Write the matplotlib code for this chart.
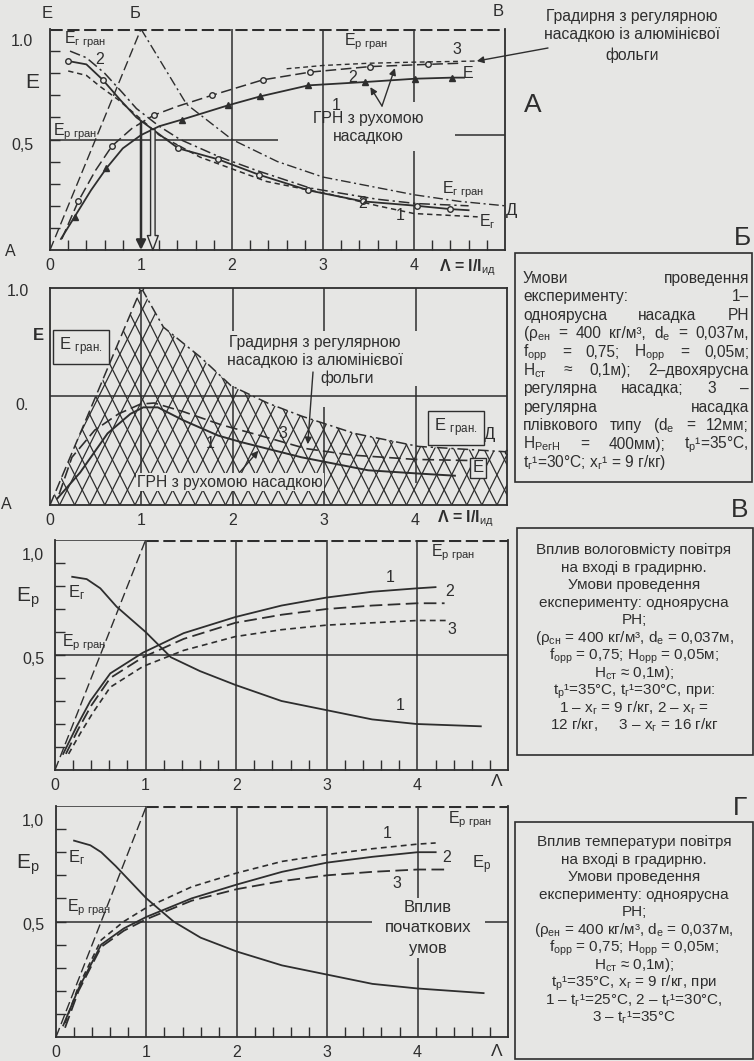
import numpy as np
import matplotlib
matplotlib.use('Agg')
import matplotlib.pyplot as plt
from matplotlib.patches import Polygon, Rectangle

plt.rcParams['font.family'] = ['Liberation Sans', 'DejaVu Sans']
plt.rcParams['mathtext.fontset'] = 'custom'
plt.rcParams['mathtext.rm'] = 'Liberation Sans'
plt.rcParams['mathtext.it'] = 'Liberation Sans:italic'
plt.rcParams['mathtext.bf'] = 'Liberation Sans:bold'

W, H = 754, 1061
BG = '#e6e6e4'
INK = '#2e2e2e'

# ---------------- data ----------------
# limiting lines
lam_pgr = [0, 1]
e_pgr = [0, 1]
e_top = 1.0
lam_ggr = [1, 1.5, 2, 2.5, 3, 3.5, 4, 4.5, 5]
e_ggr = [1.0, 0.66, 0.5, 0.4, 0.33, 0.29, 0.25, 0.22, 0.2]

# panel A - rising curves
lam_a1 = [0.12, 0.27, 0.45, 0.62, 0.8, 1.0, 1.2, 1.45, 1.96, 2.31, 2.84, 3.46, 4.01, 4.42, 4.55]
e_a1 = [0.05, 0.15, 0.27, 0.37, 0.46, 0.52, 0.56, 0.59, 0.655, 0.695, 0.745, 0.76, 0.775, 0.78, 0.78]
lam_a2 = [0.13, 0.31, 0.5, 0.68, 0.9, 1.14, 1.4, 1.78, 2.34, 2.86, 3.52, 4.15, 4.5]
e_a2 = [0.05, 0.22, 0.36, 0.47, 0.55, 0.61, 0.65, 0.70, 0.77, 0.805, 0.83, 0.84, 0.845]
lam_a3 = [2.6, 3.0, 3.5, 4.0, 4.69]
e_a3 = [0.82, 0.835, 0.845, 0.85, 0.855]
# panel A - falling curves
lam_ag2 = [0.22, 0.4, 0.6, 0.8, 0.95, 1.2, 1.43, 1.87, 2.27, 2.86, 3.59, 4.03, 4.6]
e_ag2 = [0.90, 0.87, 0.80, 0.71, 0.64, 0.56, 0.50, 0.42, 0.36, 0.28, 0.23, 0.21, 0.20]
lam_agc = [0.2, 0.4, 0.58, 0.77, 0.95, 1.13, 1.41, 1.85, 2.3, 2.84, 3.44, 4.03, 4.4, 4.6]
e_agc = [0.855, 0.84, 0.77, 0.68, 0.60, 0.545, 0.46, 0.41, 0.34, 0.27, 0.22, 0.20, 0.185, 0.18]
lam_ag1 = [0.2, 0.4, 0.55, 0.75, 0.92, 1.2, 1.65, 2.38, 3.1, 3.6, 4.0, 4.7]
e_ag1 = [0.81, 0.79, 0.74, 0.68, 0.62, 0.52, 0.42, 0.31, 0.25, 0.20, 0.165, 0.15]
lam_arrow = [1.0, 1.13]
e_arrow = [0.58, 0.545]

# panel B
lam_bup = [1.0, 1.24, 1.65, 1.98, 2.38, 2.75, 3.33, 4.03, 5.0]
e_bup = [1.0, 0.82, 0.68, 0.55, 0.47, 0.41, 0.33, 0.27, 0.245]
lam_b1 = [0.08, 0.33, 0.63, 0.88, 1.02, 1.18, 1.46, 1.84, 2.09, 2.75, 3.48, 4.03, 4.43]
e_b1 = [0.03, 0.15, 0.33, 0.42, 0.45, 0.45, 0.39, 0.32, 0.29, 0.22, 0.16, 0.145, 0.135]
lam_b3 = [0.1, 0.24, 0.49, 0.75, 0.99, 1.14, 1.46, 1.87, 2.3, 2.8, 3.3, 4.0, 4.6]
e_b3 = [0.05, 0.22, 0.345, 0.42, 0.465, 0.47, 0.43, 0.37, 0.32, 0.26, 0.23, 0.21, 0.205]

# panel V (humidity)
lam_vg = [0.19, 0.35, 0.5, 0.68, 1.0, 1.28, 1.6, 1.99, 2.5, 3.0, 3.5, 3.99, 4.7]
e_vg = [0.84, 0.83, 0.79, 0.71, 0.60, 0.49, 0.43, 0.37, 0.30, 0.26, 0.22, 0.20, 0.19]
lam_v1 = [0.09, 0.24, 0.39, 0.61, 0.97, 1.42, 1.99, 2.5, 3.0, 3.5, 4.0, 4.2]
e_v1 = [0.07, 0.19, 0.30, 0.42, 0.51, 0.595, 0.665, 0.715, 0.75, 0.775, 0.79, 0.795]
lam_v2 = [0.12, 0.26, 0.4, 0.61, 0.97, 1.42, 1.99, 2.5, 3.0, 3.5, 4.0, 4.3]
e_v2 = [0.07, 0.18, 0.28, 0.40, 0.49, 0.57, 0.64, 0.675, 0.70, 0.715, 0.725, 0.725]
lam_v3 = [0.15, 0.28, 0.42, 0.61, 0.97, 1.42, 1.99, 2.5, 3.0, 3.5, 4.0, 4.35]
e_v3 = [0.07, 0.16, 0.25, 0.36, 0.45, 0.52, 0.58, 0.61, 0.63, 0.64, 0.65, 0.65]

# panel G (temperature)
lam_gg = [0.2, 0.38, 0.5, 0.66, 1.0, 1.3, 1.6, 2.0, 2.5, 3.0, 3.5, 4.0, 4.73]
e_gg = [0.85, 0.83, 0.80, 0.74, 0.60, 0.50, 0.43, 0.37, 0.31, 0.27, 0.23, 0.21, 0.19]
lam_g1 = [0.1, 0.25, 0.5, 0.75, 1.0, 1.5, 2.0, 2.5, 3.0, 3.5, 4.0, 4.2]
e_g1 = [0.06, 0.22, 0.42, 0.50, 0.56, 0.65, 0.71, 0.76, 0.79, 0.815, 0.835, 0.84]
lam_g2 = [0.08, 0.25, 0.5, 0.75, 1.0, 1.5, 2.0, 2.5, 3.0, 3.5, 4.0, 4.2]
e_g2 = [0.05, 0.21, 0.40, 0.47, 0.52, 0.60, 0.66, 0.715, 0.755, 0.78, 0.80, 0.80]
lam_g3 = [0.1, 0.25, 0.5, 0.75, 1.0, 1.5, 2.0, 2.5, 3.0, 3.5, 4.0, 4.3]
e_g3 = [0.04, 0.20, 0.39, 0.46, 0.51, 0.59, 0.64, 0.675, 0.70, 0.715, 0.725, 0.725]

xtick_vals = [0, 1, 2, 3, 4]
xtick_text = ['0', '1', '2', '3', '4']

LD = (0, (7, 3))
SD = (0, (3.5, 2.5))
DD = (0, (7, 2.5, 1.5, 2.5))
TD = (0, (4, 1.5))

fig = plt.figure(figsize=(W / 100, H / 100), dpi=100, facecolor=BG)


def fp(px, py):
    return (px / W, 1 - py / H)


def label(px, py, s, size=11, **kw):
    kw.setdefault('ha', 'center')
    kw.setdefault('va', 'center')
    return fig.text(px / W, 1 - py / H, s, fontsize=size, color=INK, **kw)


def panel(x0, y0, x1, y1, ticks=True):
    ax = fig.add_axes([x0 / W, 1 - y1 / H, (x1 - x0) / W, (y1 - y0) / H])
    ax.set_xlim(0, 5)
    ax.set_ylim(0, 1)
    ax.patch.set_alpha(0)
    for s in ax.spines.values():
        s.set_color(INK)
        s.set_linewidth(1.3)
    ax.set_yticks([])
    ax.set_xticks(xtick_vals)
    ax.set_xticklabels(xtick_text, fontsize=11.5, color=INK)
    ax.tick_params(axis='x', which='major', length=0, pad=6)
    if ticks:
        ax.set_xticks(np.arange(0.2, 5, 0.2), minor=True)
        ax.set_yticks(np.arange(0.1, 1.0, 0.1), minor=True)
        ax.tick_params(which='minor', direction='in', length=7, width=1, color=INK)
    return ax


def arrow(ax, xy, tail, lw=1.0):
    ax.annotate('', xy=xy, xycoords='data', xytext=fp(*tail), textcoords='figure fraction',
                arrowprops=dict(arrowstyle='-|>', color=INK, lw=lw, mutation_scale=10,
                                shrinkA=0, shrinkB=0))


# ================= panel A =================
axA = panel(50, 29, 505, 250)
axA.spines['top'].set_visible(False)
axA.axhline(e_top, color=INK, lw=2.2, ls=TD)
axA.vlines([2, 3], 0, 1, color=INK, lw=1.1)
axA.vlines(4, 0.67, 1, color=INK, lw=1.1)
axA.vlines(4, 0, 0.45, color=INK, lw=1.1)
axA.hlines(0.5, 0, 2.5, color=INK, lw=1.1)
axA.hlines(0.52, 4.45, 5, color=INK, lw=1.1)
axA.plot(lam_pgr, e_pgr, color=INK, lw=1, ls=LD)
axA.plot(lam_ggr, e_ggr, color=INK, lw=1.0, ls=DD)
axA.plot(lam_a1, e_a1, color=INK, lw=1.3, marker='^', ms=4, markevery=[1, 3, 7, 8, 9, 10, 11, 12, 13])
axA.plot(lam_a2, e_a2, color=INK, lw=1.1, ls=LD, marker='o', ms=4, mfc=BG,
         markevery=[1, 3, 5, 7, 8, 9, 10, 11])
axA.plot(lam_a3, e_a3, color=INK, lw=1, ls=SD)
axA.plot(lam_ag2, e_ag2, color=INK, lw=1.1, ls=DD)
axA.plot(lam_agc, e_agc, color=INK, lw=1.3, marker='o', ms=4, mfc=BG,
         markevery=[0, 2, 6, 7, 8, 9, 10, 11, 12])
axA.plot(lam_ag1, e_ag1, color=INK, lw=1.1, ls=SD)
axA.annotate('', xy=(lam_arrow[0], 0), xytext=(lam_arrow[0], e_arrow[0]),
             arrowprops=dict(arrowstyle='-|>', color=INK, lw=1.8, mutation_scale=14, shrinkA=0, shrinkB=0))
axA.annotate('', xy=(lam_arrow[1], 0), xytext=(lam_arrow[1], e_arrow[1]),
             arrowprops=dict(arrowstyle='simple,head_length=0.8,head_width=0.6,tail_width=0.25',
                             fc=BG, ec=INK, lw=1, mutation_scale=13, shrinkA=0, shrinkB=0))
arrow(axA, (3.52, 0.737), (382, 106))
arrow(axA, (3.79, 0.823), (382, 106))
arrow(axA, (4.69, 0.855), (548, 48))

label(47, 13, 'Е', 12)
label(135, 13, 'Б', 12)
label(498, 11, 'В', 12)
label(22, 42, '1.0', 11.5)
label(32, 82, 'Е', 15)
label(22, 145, '0,5', 11.5)
label(10, 252, 'А', 11.5)
label(85, 40, r'Е$_{\mathrm{г\ гран}}$', 11.5)
label(100, 60, '2', 11.5)
label(75, 132, r'Е$_{\mathrm{р\ гран}}$', 11.5)
label(366, 42, r'Е$_{\mathrm{р\ гран}}$', 11.5)
label(457, 49, '3', 11.5)
label(353, 78, '2', 11.5)
label(336, 106, '1', 11.5)
label(468, 73, 'Е', 11.5)
label(368, 119, 'ГРН з рухомою', 11.3)
label(368, 137, 'насадкою', 11.3)
label(463, 190, r'Е$_{\mathrm{г\ гран}}$', 11.5)
label(512, 210, 'Д', 12)
label(487, 222, r'Е$_{\mathrm{г}}$', 11.5)
label(400, 216, '1', 11.5)
label(363, 204, '2', 11.5)
label(632, 17, 'Градирня з регулярною', 11.3)
label(632, 35, 'насадкою із алюмінієвої', 11.3)
label(632, 55, 'фольги', 11.3)
label(533, 105, 'А', 19)
label(467, 268, r'Λ = l/l$_{\mathrm{ид}}$', 11.5, fontweight='bold')

# ================= panel B =================
axB = panel(50, 288, 507, 505, ticks=False)
axB.axhline(0.5, color=INK, lw=1.1)
axB.vlines(1, 0, 1, color=INK, lw=1.1)
axB.vlines([2, 3, 4], 0.8, 1, color=INK, lw=1.1)
axB.vlines(2, 0, 0.55, color=INK, lw=1.1)
axB.vlines(3, 0, 0.45, color=INK, lw=1.1)
axB.vlines(4, 0.1, 0.55, color=INK, lw=1.1)
poly_pts = np.column_stack([lam_pgr + lam_bup[1:] + [lam_bup[-1], 0],
                            e_pgr + e_bup[1:] + [0, 0]])
hpoly = Polygon(poly_pts, closed=True, fill=False, lw=0)
axB.add_patch(hpoly)
slope = 2 * (457 / 5) / 217
xs = np.array([-1.0, 6.0])
for c in np.arange(-6, 8, 0.165):
    for sg in (1, -1):
        ln, = axB.plot(xs, sg * slope * (xs - c), color=INK, lw=0.9)
        ln.set_clip_path(hpoly)
axB.plot(lam_pgr, e_pgr, color=INK, lw=1.1, ls=LD)
axB.plot(lam_bup, e_bup, color=INK, lw=1.1, ls=DD, marker='o', ms=3, mfc=BG, markevery=[0, -1])
axB.plot(lam_b1, e_b1, color=INK, lw=1.4)
axB.plot(lam_b3, e_b3, color=INK, lw=1.2, ls=LD)
arrow(axB, (2.82, 0.28), (313, 372))
arrow(axB, (2.28, 0.25), (240, 472))

label(18, 292, '1.0', 11.5)
label(38, 335, 'Е', 12, fontweight='bold')
label(22, 405, '0.', 11.5)
label(6, 505, 'А', 11.5)
label(315, 342, 'Градирня з регулярною', 11.3)
label(315, 360, 'насадкою із алюмінієвої', 11.3)
label(347, 378, 'фольги', 11.3)
label(283, 433, '3', 11.5)
label(210, 443, '1', 11.5)
label(230, 482, 'ГРН з рухомою насадкою', 11.3,
      bbox=dict(boxstyle='square,pad=0.1', fc=BG, ec='none'))
box_kw = dict(boxstyle='square,pad=0.35', fc=BG, ec=INK, lw=1)
label(81, 347, r'Е $_{\mathrm{гран.}}$', 12, bbox=box_kw)
label(456, 428, r'Е $_{\mathrm{гран.}}$', 12, bbox=box_kw)
label(478, 468, 'Е', 12, bbox=dict(boxstyle='square,pad=0.15', fc=BG, ec=INK, lw=1))
label(490, 435, 'Д', 12)
label(465, 519, r'Λ = l/l$_{\mathrm{ид}}$', 11.5, fontweight='bold')

# ================= panel V =================
axC = panel(55, 540, 508, 770)
axC.spines['top'].set_visible(False)
axC.hlines(e_top, 0, 1, color=INK, lw=1.1)
axC.plot([lam_pgr[1], 5], [e_top, e_top], color=INK, lw=2.2, ls=TD)
axC.vlines([1, 2, 3, 4], 0, 1, color=INK, lw=1.1)
axC.axhline(0.5, color=INK, lw=1.1)
axC.plot(lam_pgr, e_pgr, color=INK, lw=1, ls=LD)
axC.plot(lam_vg, e_vg, color=INK, lw=1.3)
axC.plot(lam_v1, e_v1, color=INK, lw=1.3)
axC.plot(lam_v2, e_v2, color=INK, lw=1.3, ls=LD)
axC.plot(lam_v3, e_v3, color=INK, lw=1.2, ls=SD)

label(33, 555, '1,0', 11.5)
label(28, 598, r'Е$_{\mathrm{р}}$', 15)
label(33, 660, '0,5', 11.5)
label(453, 553, r'Е$_{\mathrm{р\ гран}}$', 11.5)
label(390, 577, '1', 11.5)
label(450, 592, '2', 11.5)
label(452, 630, '3', 11.5)
label(400, 706, '1', 11.5)
label(77, 593, r'Е$_{\mathrm{г}}$', 12)
label(84, 643, r'Е$_{\mathrm{р\ гран}}$', 11.5)
label(497, 781, 'Λ', 12.5)

# ================= panel G =================
axD = panel(56, 806, 508, 1037)
axD.spines['top'].set_visible(False)
axD.hlines(e_top, 0, 1, color=INK, lw=1.1)
axD.plot([lam_pgr[1], 5], [e_top, e_top], color=INK, lw=2.2, ls=TD)
axD.vlines([1, 2, 3], 0, 1, color=INK, lw=1.1)
axD.vlines(4, 0.6, 1, color=INK, lw=1.1)
axD.vlines(4, 0, 0.34, color=INK, lw=1.1)
axD.hlines(0.5, 0, 3.5, color=INK, lw=1.1)
axD.hlines(0.5, 4.75, 5, color=INK, lw=1.1)
axD.plot(lam_pgr, e_pgr, color=INK, lw=1, ls=LD)
axD.plot(lam_gg, e_gg, color=INK, lw=1.3)
axD.plot(lam_g1, e_g1, color=INK, lw=1.2, ls=SD)
axD.plot(lam_g2, e_g2, color=INK, lw=1.3)
axD.plot(lam_g3, e_g3, color=INK, lw=1.3, ls=LD)

label(33, 822, '1,0', 11.5)
label(28, 865, r'Е$_{\mathrm{р}}$', 15)
label(33, 925, '0,5', 11.5)
label(470, 820, r'Е$_{\mathrm{р\ гран}}$', 11.5)
label(387, 833, '1', 11.5)
label(447, 858, '2', 11.5)
label(482, 865, r'Е$_{\mathrm{р}}$', 12)
label(397, 883, '3', 11.5)
label(428, 908, 'Вплив', 12)
label(428, 928, 'початкових', 12)
label(428, 948, 'умов', 12)
label(77, 858, r'Е$_{\mathrm{г}}$', 12)
label(89, 908, r'Е$_{\mathrm{р\ гран}}$', 11.5)
label(497, 1051, 'Λ', 12.5)

# ================= text boxes =================
for x0, y0, x1, y1 in [(515, 253, 752, 482), (517, 528, 753, 755), (515, 822, 753, 1059)]:
    fig.patches.append(Rectangle(fp(x0, y1), (x1 - x0) / W, (y1 - y0) / H,
                                 transform=fig.transFigure, fill=False, ec=INK, lw=1.2))

label(742, 238, 'Б', 19)
label(740, 510, 'В', 19)
label(740, 808, 'Г', 19)

box_b = [
    'Умови проведення',
    'експерименту: 1–',
    'одноярусна насадка РН',
    r'(ρ$_{\mathrm{ен}}$ = 400 кг/м³, d$_{\mathrm{е}}$ = 0,037м,',
    r'f$_{\mathrm{орр}}$ = 0,75; H$_{\mathrm{орр}}$ = 0,05м;',
    r'H$_{\mathrm{ст}}$ ≈ 0,1м); 2–двохярусна',
    'регулярна насадка; 3 –',
    'регулярна насадка',
    r'плівкового типу (d$_{\mathrm{е}}$ = 12мм;',
    r'H$_{\mathrm{РегН}}$ = 400мм); t$_{\mathrm{р}}$¹=35°С,',
    r't$_{\mathrm{г}}$¹=30°С; x$_{\mathrm{г}}$¹ = 9 г/кг)',
]
box_b_top, box_b_step = 278, 18.4

box_v = [
    'Вплив вологовмісту повітря',
    'на вході в градирню.',
    'Умови проведення',
    'експерименту: одноярусна',
    'РН;',
    r'(ρ$_{\mathrm{сн}}$ = 400 кг/м³, d$_{\mathrm{е}}$ = 0,037м,',
    r'f$_{\mathrm{орр}}$ = 0,75; H$_{\mathrm{орр}}$ = 0,05м;',
    r'H$_{\mathrm{ст}}$ ≈ 0,1м);',
    r't$_{\mathrm{р}}$¹=35°С, t$_{\mathrm{г}}$¹=30°С, при:',
    r'1 – x$_{\mathrm{г}}$ = 9 г/кг, 2 – x$_{\mathrm{г}}$ =',
    r'12 г/кг,     3 – x$_{\mathrm{г}}$ = 16 г/кг',
]
box_v_top, box_v_step = 549, 17.6

box_g = [
    'Вплив температури повітря',
    'на вході в градирню.',
    'Умови проведення',
    'експерименту: одноярусна',
    'РН;',
    r'(ρ$_{\mathrm{ен}}$ = 400 кг/м³, d$_{\mathrm{е}}$ = 0,037м,',
    r'f$_{\mathrm{орр}}$ = 0,75; H$_{\mathrm{орр}}$ = 0,05м;',
    r'H$_{\mathrm{ст}}$ ≈ 0,1м);',
    r't$_{\mathrm{р}}$¹=35°С, x$_{\mathrm{г}}$ = 9 г/кг, при',
    r'1 – t$_{\mathrm{г}}$¹=25°С, 2 – t$_{\mathrm{г}}$¹=30°С,',
    r'3 – t$_{\mathrm{г}}$¹=35°С',
]
box_g_top, box_g_step = 841, 17.6

renderer = fig.canvas.get_renderer()


def justify(line, x0, x1, py, size=11.2):
    words = line.split(' ')
    ts = [label(0, py + 5, w, size, ha='left', va='baseline') for w in words]
    ws = [t.get_window_extent(renderer).width for t in ts]
    gap = (x1 - x0 - sum(ws)) / max(len(ws) - 1, 1)
    x = x0
    for t, w in zip(ts, ws):
        t.set_x(x / W)
        x += w + gap


for i, line in enumerate(box_b[:-1]):
    justify(line, 523, 749, box_b_top + i * box_b_step)
label(523, box_b_top + (len(box_b) - 1) * box_b_step + 5, box_b[-1], 11.2, ha='left', va='baseline')

for i, line in enumerate(box_v):
    label(634, box_v_top + i * box_v_step + 5, line, 11, va='baseline')
for i, line in enumerate(box_g):
    label(634, box_g_top + i * box_g_step + 5, line, 11, va='baseline')

fig.savefig('out.png', dpi=100, facecolor=BG)
